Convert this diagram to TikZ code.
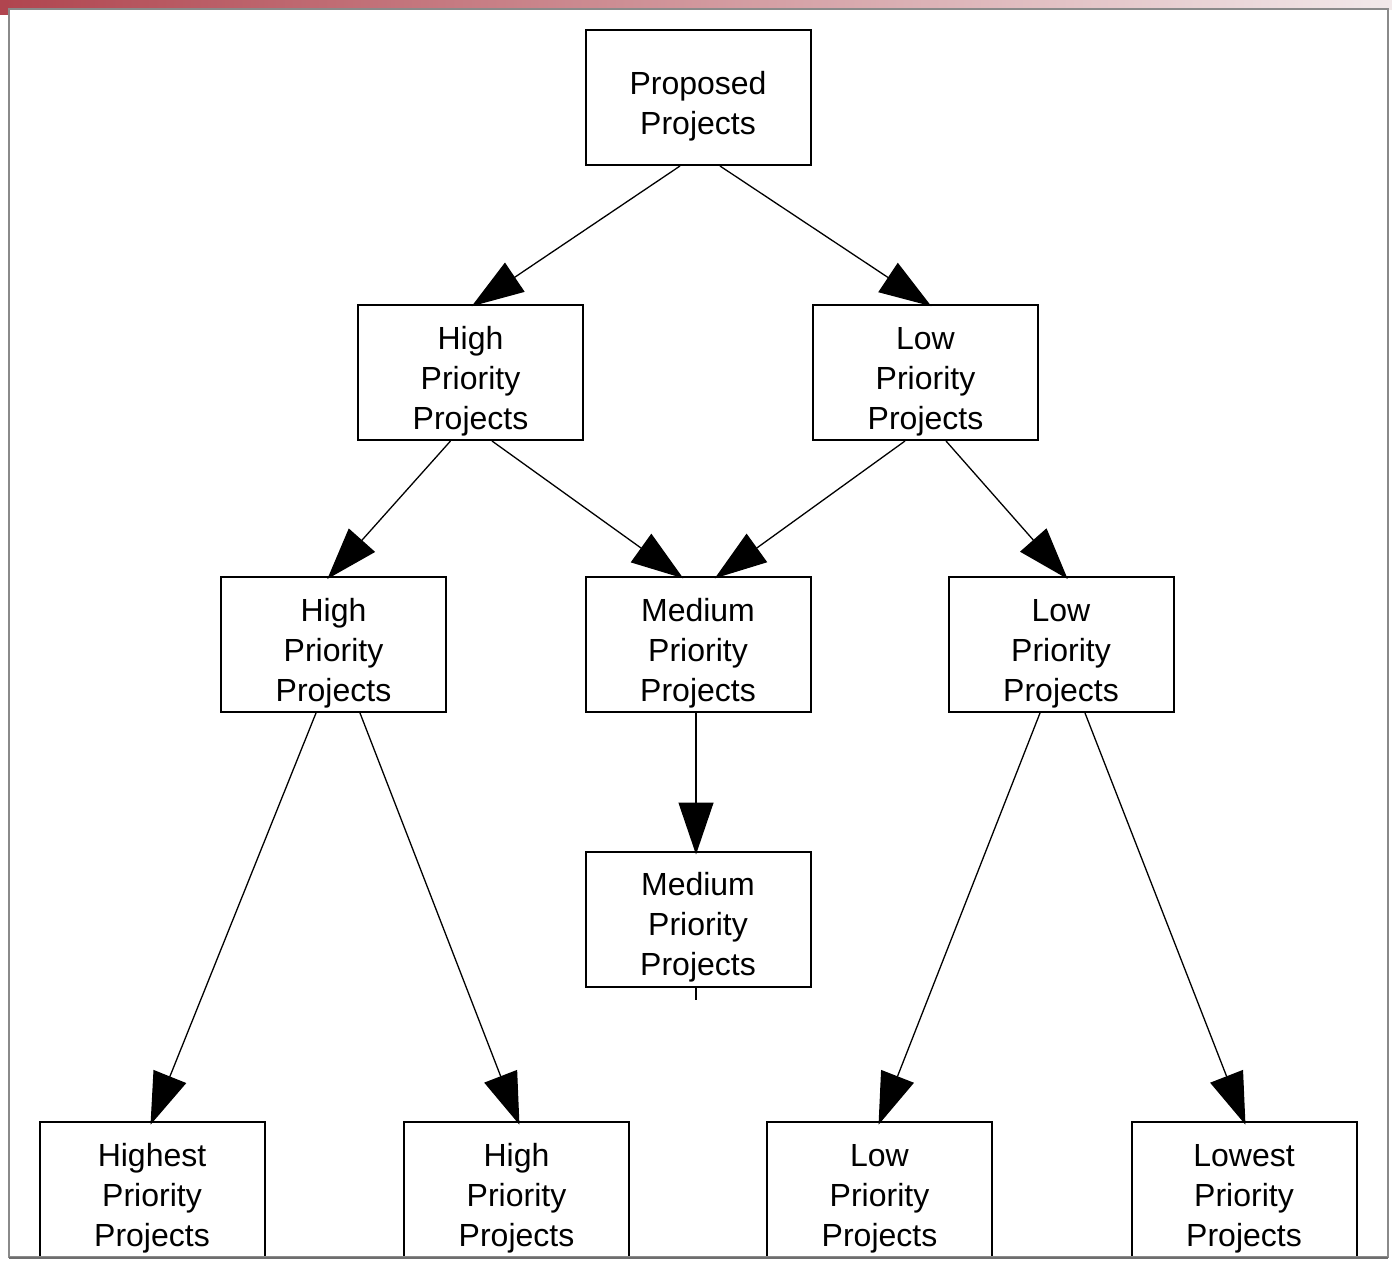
\documentclass[tikz,border=0pt]{standalone}
\usepackage{fontspec}
\setmainfont{Liberation Sans}
\usetikzlibrary{arrows.meta}

\definecolor{barred}{HTML}{B0454F}
\definecolor{barpale}{HTML}{F2E9EA}
\definecolor{framegrey}{HTML}{8A8A8A}

% extra head room on the first line nudges the text block downwards
\newcommand{\toproom}{\rule{0pt}{40pt}}

\tikzset{
  pbox/.style={draw=black, line width=2pt, minimum width=225pt, minimum height=135pt,
    inner sep=0pt, align=center, font=\fontsize{32}{40}\selectfont},
  flow/.style={line width=1.3pt, -{Triangle[length=52pt,width=35pt]}, shorten >=-4pt},
}

\begin{document}
\begin{tikzpicture}[x=1pt, y=-1pt]
  % page and window chrome
  \useasboundingbox (0,0) rectangle (1392,1261);
  \fill[white] (0,0) rectangle (1392,1261);
  \shade[left color=barred, right color=barpale] (0,0) rectangle (1392,9);
  \fill[barred] (0,0) rectangle (9,15);

  \begin{scope}
    \clip (9,9) rectangle (1388,1257);

    % boxes
    \node[pbox] (p)  at (698,97.5)   {\toproom Proposed\\Projects};
    \node[pbox] (h2) at (470.5,372.5) {\toproom High\\Priority\\Projects};
    \node[pbox] (l2) at (925.5,372.5) {\toproom Low\\Priority\\Projects};
    \node[pbox] (h3) at (333.5,644.5) {\toproom High\\Priority\\Projects};
    \node[pbox] (m3) at (698,644.5)   {\toproom Medium\\Priority\\Projects};
    \node[pbox] (l3) at (1061,644.5)  {\toproom Low\\Priority\\Projects};
    \node[pbox] (m4) at (698,919)     {\toproom Medium\\Priority\\Projects};
    \node[pbox] (a5) at (152,1189.5)  {\toproom Highest\\Priority\\Projects};
    \node[pbox] (b5) at (516.5,1189.5) {\toproom High\\Priority\\Projects};
    \node[pbox] (c5) at (879.5,1189.5) {\toproom Low\\Priority\\Projects};
    \node[pbox] (d5) at (1244,1189.5) {\toproom Lowest\\Priority\\Projects};

    % connectors
    \draw[flow] ([xshift=-18pt]p.south)  -- ([xshift=4.5pt]h2.north);
    \draw[flow] ([xshift=22pt]p.south)   -- ([xshift=2.5pt]l2.north);
    \draw[flow] ([xshift=-20pt]h2.south) -- ([xshift=-3.5pt]h3.north);
    \draw[flow] ([xshift=21.5pt]h2.south) -- ([xshift=-18pt]m3.north);
    \draw[flow] ([xshift=-20.5pt]l2.south) -- ([xshift=20pt]m3.north);
    \draw[flow] ([xshift=20.5pt]l2.south) -- ([xshift=4pt]l3.north);
    \draw[flow] ([xshift=-2pt]m3.south)  -- ([xshift=-2pt]m4.north);
    \draw[flow] ([xshift=-17.5pt]h3.south) -- (a5.north);
    \draw[flow] ([xshift=26.5pt]h3.south) -- ([xshift=1.5pt]b5.north);
    \draw[flow] ([xshift=-21pt]l3.south) -- ([xshift=0.5pt]c5.north);
    \draw[flow] ([xshift=24pt]l3.south)  -- (d5.north);

    % short lead below the lower medium box
    \coordinate (m4end) at ([xshift=-2pt,yshift=-12pt]m4.south);
    \draw[line width=1.3pt] ([xshift=-2pt]m4.south) -- (m4end);
  \end{scope}

  % window frame
  \draw[framegrey, line width=2pt] (9,9) rectangle (1388,1257);
  \draw[framegrey!80!black, line width=2.5pt] (9,1258) -- (1388,1258);
\end{tikzpicture}
\end{document}
